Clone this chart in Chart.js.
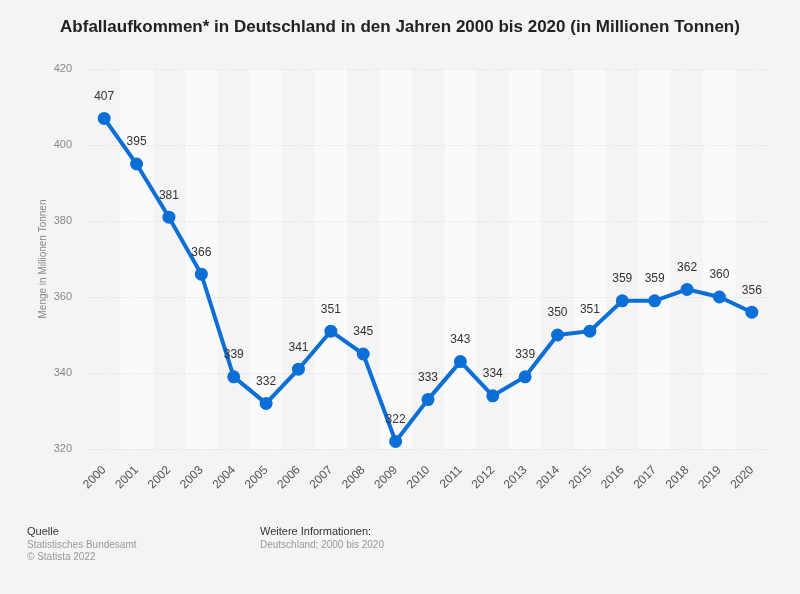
<!DOCTYPE html>
<html>
<head>
<meta charset="utf-8">
<script src="https://cdn.jsdelivr.net/npm/chart.js@4"></script>
<style>
  html, body { margin: 0; padding: 0; background: #f4f4f4; }
  #wrap { width: 800px; height: 594px; position: relative; }
</style>
</head>
<body>
<div id="wrap"><canvas id="chart" width="800" height="594"></canvas></div>
<script>
const years = ['2000', '2001', '2002', '2003', '2004', '2005', '2006', '2007', '2008', '2009', '2010',
  '2011', '2012', '2013', '2014', '2015', '2016', '2017', '2018', '2019', '2020'];
const wasteAmounts = [407, 395, 381, 366, 339, 332, 341, 351, 345, 322, 333,
  343, 334, 339, 350, 351, 359, 359, 362, 360, 356];
const yTicks = [320, 340, 360, 380, 400, 420];

const chartTitle = 'Abfallaufkommen* in Deutschland in den Jahren 2000 bis 2020 (in Millionen Tonnen)';
const yAxisTitle = 'Menge in Millionen Tonnen';

const FONT = '"Liberation Sans", Arial, Helvetica, sans-serif';

// alternating column bands behind the plot
const bandsPlugin = {
  id: 'bands',
  beforeDraw(chart) {
    const { ctx, chartArea, scales } = chart;
    const x = scales.x;
    const step = (chartArea.right - chartArea.left) / years.length;
    ctx.save();
    years.forEach((y, i) => {
      if (i % 2 === 1) {
        const cx = x.getPixelForValue(i);
        ctx.fillStyle = '#fafafa';
        ctx.fillRect(cx - step / 2, chartArea.top, step, chartArea.bottom - chartArea.top);
      }
    });
    ctx.restore();
  }
};

// value labels, title, axis title and footer
const textPlugin = {
  id: 'texts',
  afterDatasetsDraw(chart) {
    const { ctx } = chart;
    const meta = chart.getDatasetMeta(0);
    ctx.save();
    ctx.font = '12px ' + FONT;
    ctx.fillStyle = '#333';
    ctx.textAlign = 'center';
    ctx.textBaseline = 'middle';
    meta.data.forEach((pt, i) => {
      ctx.fillText(String(wasteAmounts[i]), pt.x, pt.y - 22);
    });
    ctx.restore();
  },
  afterDraw(chart) {
    const { ctx, chartArea } = chart;
    ctx.save();
    // title
    ctx.font = 'bold 17px ' + FONT;
    ctx.fillStyle = '#222';
    ctx.textAlign = 'center';
    ctx.textBaseline = 'middle';
    ctx.fillText(chartTitle, 400, 27);

    // y axis title
    ctx.save();
    ctx.translate(43, (chartArea.top + chartArea.bottom) / 2);
    ctx.rotate(-Math.PI / 2);
    ctx.font = '10px ' + FONT;
    ctx.fillStyle = '#888';
    ctx.fillText(yAxisTitle, 0, 0);
    ctx.restore();

    // footer
    ctx.textAlign = 'left';
    ctx.font = '11px ' + FONT;
    ctx.fillStyle = '#333';
    ctx.fillText('Quelle', 27, 532);
    ctx.fillText('Weitere Informationen:', 260, 532);
    ctx.font = '10px ' + FONT;
    ctx.fillStyle = '#999';
    ctx.fillText('Statistisches Bundesamt', 27, 545);
    ctx.fillText('\u00A9 Statista 2022', 27, 557);
    ctx.fillText('Deutschland; 2000 bis 2020', 260, 545);
    ctx.restore();
  }
};

new Chart(document.getElementById('chart').getContext('2d'), {
  type: 'line',
  data: {
    labels: years,
    datasets: [{
      label: 'Abfallaufkommen',
      data: wasteAmounts,
      borderColor: '#0b6fd6',
      backgroundColor: '#0b6fd6',
      borderWidth: 4,
      pointRadius: 4.5,
      pointHoverRadius: 4.5,
      tension: 0,
      fill: false
    }]
  },
  options: {
    responsive: false,
    animation: false,
    layout: { padding: { top: 69, right: 32, bottom: 85, left: 0 } },
    plugins: {
      legend: { display: false },
      title: { display: false },
      tooltip: { enabled: false }
    },
    scales: {
      x: {
        offset: true,
        afterFit(scale) { scale.height = 60; },
        grid: { display: false, drawTicks: false },
        border: { display: false },
        ticks: {
          minRotation: 45,
          maxRotation: 45,
          padding: 14,
          color: '#555',
          font: { family: FONT, size: 12 }
        }
      },
      y: {
        min: 320,
        max: 420,
        afterFit(scale) { scale.width = 88; },
        afterBuildTicks(scale) { scale.ticks = yTicks.map(v => ({ value: v })); },
        grid: { color: '#d8d8d8', lineWidth: 1, drawTicks: false },
        border: { display: false, dash: [1, 2] },
        ticks: {
          padding: 16,
          color: '#888',
          font: { family: FONT, size: 11 }
        }
      }
    }
  },
  plugins: [bandsPlugin, textPlugin]
});
</script>
</body>
</html>
